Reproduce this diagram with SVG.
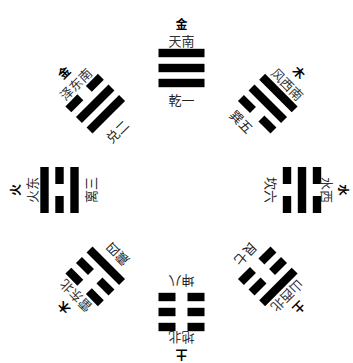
<svg xmlns="http://www.w3.org/2000/svg" width="353" height="363" viewBox="0 0 353 363">
<style>
text{font-family:"Noto Sans CJK SC","Noto Sans CJK TC",sans-serif;text-anchor:middle;dominant-baseline:central}
.el{font-size:12px;font-weight:bold;fill:#000}
.dir{font-size:13px;fill:#333}
.nm{font-size:13px;fill:#222}
.b{fill:#000}
</style>
<defs>
<g id="yang"><rect class="b" x="-23" y="-4.2" width="46" height="8.4"/></g>
<g id="yin"><rect class="b" x="-23" y="-4.2" width="17" height="8.4"/><rect class="b" x="6" y="-4.2" width="17" height="8.4"/></g>
</defs>
<rect width="353" height="363" fill="#fff"/>
<g id="qian" transform="translate(181.5,68)">
<use href="#yang" y="-15"/><use href="#yang" y="0"/><use href="#yang" y="15"/>
<text class="el" y="-45">金</text><text class="dir" y="-28">天南</text><text class="nm" y="31">乾一</text>
</g>
<g id="xun" transform="translate(267.8,103.7) rotate(45)">
<use href="#yang" y="-15"/><use href="#yang" y="0"/><use href="#yin" y="15"/>
<text class="el" y="-45">木</text><text class="dir" y="-28">风西南</text><text class="nm" x="-6" y="31">巽五</text>
</g>
<g id="kan" transform="translate(302,190) rotate(90)">
<use href="#yin" y="-15"/><use href="#yang" y="0"/><use href="#yin" y="15"/>
<text class="el" y="-42" style="font-size:11.5px">水</text><text class="dir" y="-25">水西</text><text class="nm" y="31">坎六</text>
</g>
<g id="gen" transform="translate(267.8,276.3) rotate(135)">
<use href="#yang" y="-15"/><use href="#yin" y="0"/><use href="#yin" y="15"/>
<text class="el" y="-45">土</text><text class="dir" y="-28">山西北</text><text class="nm" y="31">艮七</text>
</g>
<g id="kun" transform="translate(181.5,312) rotate(180)">
<use href="#yin" y="-15"/><use href="#yin" y="0"/><use href="#yin" y="15"/>
<text class="el" y="-43.5">土</text><text class="dir" y="-26.5">地北</text><text class="nm" y="31">坤八</text>
</g>
<g id="zhen" transform="translate(95.2,276.3) rotate(225)">
<use href="#yin" y="-15"/><use href="#yin" y="0"/><use href="#yang" y="15"/>
<text class="el" y="-45">木</text><text class="dir" y="-28">雷东北</text><text class="nm" y="31">震四</text>
</g>
<g id="li" transform="translate(59.5,190) rotate(270)">
<use href="#yang" y="-15"/><use href="#yin" y="0"/><use href="#yang" y="15"/>
<text class="el" y="-45">火</text><text class="dir" y="-28">火东</text><text class="nm" y="31">离三</text>
</g>
<g id="dui" transform="translate(95.2,103.7) rotate(315)">
<use href="#yin" y="-15"/><use href="#yang" y="0"/><use href="#yang" y="15"/>
<text class="el" y="-45">金</text><text class="dir" y="-28">泽东南</text><text class="nm" x="-4" y="35">兑二</text>
</g>
<g id="connectors"/>
</svg>
